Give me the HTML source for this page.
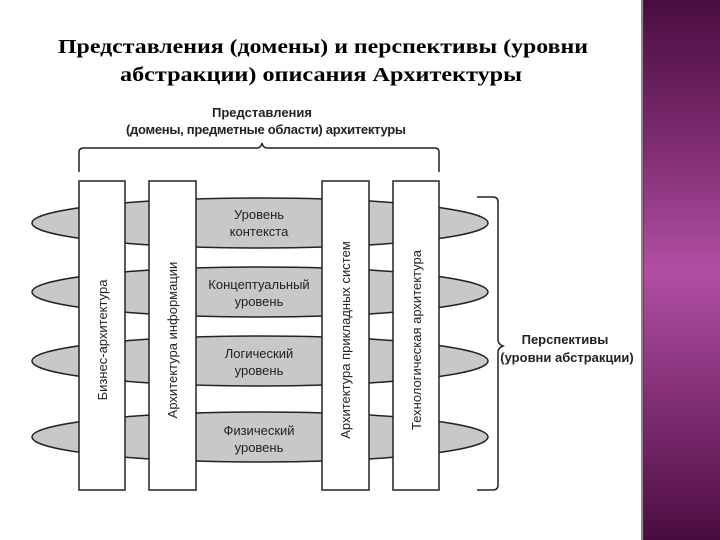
<!DOCTYPE html>
<html><head><meta charset="utf-8"><style>
html,body{margin:0;padding:0;width:720px;height:540px;overflow:hidden;background:#fff}
.bg{position:absolute;left:643px;top:0;width:77px;height:540px;background:linear-gradient(#4a0c40,#7a2a6e 25%,#b24ea3 50%,#7a2a6e 78%,#4a0c40)}
.edge{position:absolute;left:641px;top:0;width:3px;height:540px;background:#3a3a3a;opacity:.6}
</style></head><body>
<div class="bg"></div><div class="edge"></div>
<svg width="720" height="540" style="position:absolute;left:0;top:0" font-family="'Liberation Sans', sans-serif">
<text x="58" y="53" font-family="'Liberation Serif', serif" font-weight="bold" font-size="20" textLength="530" lengthAdjust="spacingAndGlyphs">Представления (домены) и перспективы (уровни</text>
<text x="120" y="81" font-family="'Liberation Serif', serif" font-weight="bold" font-size="20" textLength="402" lengthAdjust="spacingAndGlyphs">абстракции) описания Архитектуры</text>
<text x="262" y="117" text-anchor="middle" font-size="13" font-weight="bold" fill="#222">Представления</text>
<text x="266" y="134" text-anchor="middle" font-size="13" font-weight="bold" fill="#222" textLength="280">(домены, предметные области) архитектуры</text>
<path d="M79,172 V152 Q79,148 84,148 H257 Q261,148 262,143 Q263,148 267,148 H435 Q439,148 439,152 V172" fill="none" stroke="#222" stroke-width="1.5"/>
<g fill="#c8c8c8" stroke="#222" stroke-width="1.5">
<ellipse cx="260" cy="223" rx="228" ry="25"/>
<ellipse cx="260" cy="292" rx="228" ry="25"/>
<ellipse cx="260" cy="361" rx="228" ry="25"/>
<ellipse cx="260" cy="437" rx="228" ry="25"/>
</g>
<g fill="#fff" stroke="#222" stroke-width="1.5">
<rect x="79" y="181" width="46" height="309"/>
<rect x="149" y="181" width="47" height="309"/>
<rect x="322" y="181" width="47" height="309"/>
<rect x="393" y="181" width="46" height="309"/>
</g>
<g font-size="13" fill="#222" text-anchor="middle">
<text x="259" y="219">Уровень</text><text x="259" y="236">контекста</text>
<text x="259" y="289">Концептуальный</text><text x="259" y="306">уровень</text>
<text x="259" y="358">Логический</text><text x="259" y="375">уровень</text>
<text x="259" y="435">Физический</text><text x="259" y="452">уровень</text>
<text transform="translate(107,340) rotate(-90)">Бизнес-архитектура</text>
<text transform="translate(177,340) rotate(-90)">Архитектура информации</text>
<text transform="translate(350,340) rotate(-90)">Архитектура прикладных систем</text>
<text transform="translate(421,340) rotate(-90)">Технологическая архитектура</text>
</g>
<path d="M477,197 H493 Q498,197 498,202 V340 Q498,344 503,346 Q498,348 498,352 V485 Q498,490 493,490 H477" fill="none" stroke="#222" stroke-width="1.5"/>
<text x="565" y="344" text-anchor="middle" font-size="13" font-weight="bold" fill="#222">Перспективы</text>
<text x="567" y="362" text-anchor="middle" font-size="13" font-weight="bold" fill="#222">(уровни абстракции)</text>
</svg>
</body></html>
